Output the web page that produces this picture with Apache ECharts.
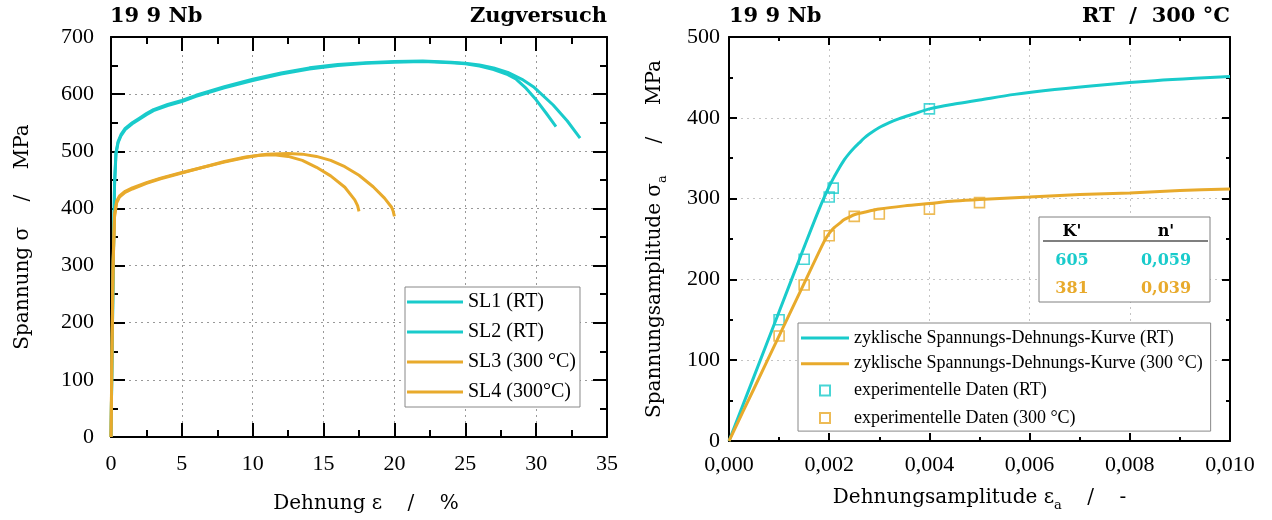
<!DOCTYPE html>
<html>
<head>
<meta charset="utf-8">
<script src="https://cdn.jsdelivr.net/npm/echarts@6/dist/echarts.min.js"></script>
<style>
html,body{margin:0;padding:0;background:#fff;}
#chart{width:1272px;height:520px;}
</style>
</head>
<body>
<div id="chart"></div>
<script>
// ---------- data ----------
const sl1Strain = [0, 0.15, 0.25, 0.35, 0.5, 0.7, 1.0, 1.5, 2.0, 2.5, 3.0, 4.0, 5.0, 6.0, 8.0, 10, 12, 14, 16, 18, 20, 22, 24, 25, 26, 27, 28, 28.6, 29.3, 30.0, 30.7, 31.4];
const sl1Stress = [0, 280, 440, 495, 515, 527, 538, 548, 556, 564, 571, 580, 587, 596, 611, 624, 635, 644, 650, 654, 656, 657, 655, 653, 649, 643, 634, 626, 610, 590, 567, 543];
const sl2Strain = [0, 0.15, 0.25, 0.35, 0.5, 0.7, 1.0, 1.5, 2.0, 2.5, 3.0, 4.0, 5.0, 6.0, 8.0, 10, 12, 14, 16, 18, 20, 22, 24, 25, 26, 27, 28, 29, 29.8, 30.2, 31.2, 32.2, 33.1];
const sl2Stress = [0, 285, 445, 498, 517, 529, 540, 550, 558, 566, 573, 582, 589, 598, 613, 626, 637, 646, 652, 655, 657, 658, 656, 654, 651, 646, 638, 626, 613, 604, 581, 553, 523];
const sl3Strain = [0, 0.08, 0.15, 0.25, 0.4, 0.6, 1.0, 1.5, 2.5, 3.5, 5, 6.5, 8, 9.5, 10.5, 11.5, 12.5, 13.5, 14.5, 15.5, 16.5, 17.2, 17.4, 17.5];
const sl3Stress = [0, 180, 310, 390, 413, 422, 430, 436, 445, 453, 463, 472, 481, 489, 493, 494, 491, 484, 472, 457, 437, 415, 405, 395];
const sl4Strain = [0, 0.08, 0.15, 0.25, 0.4, 0.6, 1.0, 1.5, 2.5, 3.5, 5, 6.5, 8, 9.5, 11, 12.5, 13.5, 14.5, 15.5, 16.5, 17.5, 18.5, 19.3, 19.8, 19.9, 20.0];
const sl4Stress = [0, 170, 300, 385, 410, 420, 428, 434, 444, 452, 462, 472, 482, 490, 495, 496, 495, 491, 484, 473, 458, 438, 418, 402, 396, 386];
const leftSeriesNames = ['SL1 (RT)', 'SL2 (RT)', 'SL3 (300 °C)', 'SL4 (300°C)'];

const rtStrain = [0, 0.0005, 0.001, 0.0015, 0.0018, 0.002, 0.0021, 0.0022, 0.0023, 0.0024, 0.0025, 0.0026, 0.0027, 0.0028, 0.003, 0.0032, 0.0034, 0.0037, 0.004, 0.0045, 0.005, 0.0057, 0.0065, 0.0075, 0.0085, 0.0093, 0.01];
const rtStress = [0, 80, 160, 240, 287, 315, 327, 338, 348, 356, 363, 369, 375, 380, 388, 394, 399, 405, 411, 417, 422, 429, 435, 441, 446, 449, 451];
const htStrain = [0, 0.0005, 0.001, 0.0015, 0.0019, 0.002, 0.0021, 0.0022, 0.0023, 0.0024, 0.0025, 0.0027, 0.003, 0.0035, 0.004, 0.0045, 0.005, 0.006, 0.007, 0.008, 0.009, 0.01];
const htStress = [0, 65, 130, 195, 247, 257, 264, 269, 274, 277, 280, 283, 287, 291, 294, 297, 299, 302, 305, 307, 310, 312];
const rtExpStrain = [0.001, 0.0015, 0.002, 0.00208, 0.004];
const rtExpStress = [150, 225, 302, 313, 411];
const htExpStrain = [0.001, 0.0015, 0.002, 0.0025, 0.003, 0.004, 0.005];
const htExpStress = [130, 193, 254, 278, 281, 287, 295];
const rightSeriesNames = ['zyklische Spannungs-Dehnungs-Kurve (RT)', 'zyklische Spannungs-Dehnungs-Kurve (300 °C)', 'experimentelle Daten (RT)', 'experimentelle Daten (300 °C)'];

const rightXTickLabels = ['0,000', '0,002', '0,004', '0,006', '0,008', '0,010'];
const tableHeader = ["K'", "n'"];
const tableK = ['605', '381'];
const tableN = ['0,059', '0,039'];

// ---------- style ----------
const CYAN = '#19CBCB';
const ORANGE = '#E8AA2C';
const FONT = '"Liberation Serif", "Times New Roman", serif';
const NAMEFONT = '"DejaVu Serif", serif';
const BOLDFONT = '"DejaVu Serif", serif';

const pairs = (xs, ys) => xs.map((x, i) => [x, ys[i]]);

function frameAxis(o) {
  return Object.assign({
    type: 'value',
    axisLine: { show: true, onZero: false, lineStyle: { color: '#000', width: 2 } },
    axisTick: { show: true, inside: true, length: o.majorLen, lineStyle: { color: '#000', width: 2 } },
    minorTick: { show: true, splitNumber: 2, length: o.minorLen, lineStyle: { color: '#000', width: 2 } },
    splitLine: { show: false },
    axisLabel: { show: false }
  }, o.extra);
}

const chart = echarts.init(document.getElementById('chart'), null, { renderer: 'canvas' });

const labelStyle = (size, margin, fmt) => ({ show: true, fontFamily: FONT, fontSize: size, color: '#000', margin: margin, formatter: fmt });
const titleStyle = { fontFamily: BOLDFONT, fontWeight: 'bold', fontSize: 21, color: '#000' };
const subRich = { sub: { fontFamily: NAMEFONT, fontSize: 13, lineHeight: 13, verticalAlign: 'bottom', color: '#000' } };
const leftLineIcon = 'path://M0,0M56,20M0,8.5H56V11.5H0Z';
const rightLineIcon = 'path://M0,0M48,18M0,7.5H48V10.5H0Z';
const squareIcon = 'path://M0,0M48,18M19,4H29V14H19Z';

const option = {
  animation: false,
  backgroundColor: '#fff',
  title: [
    { text: '19 9 Nb', left: 110, top: 6, padding: 0, textStyle: titleStyle },
    { text: 'Zugversuch', right: 665, top: 6, padding: 0, textStyle: titleStyle },
    { text: '19 9 Nb', left: 729, top: 6, padding: 0, textStyle: titleStyle },
    { text: 'RT  /  300 °C', right: 42, top: 6, padding: 0, textStyle: titleStyle }
  ],
  grid: [
    { left: 111, top: 37, width: 496, height: 400 },
    { left: 729, top: 37, width: 501, height: 404 }
  ],
  xAxis: [
    frameAxis({ majorLen: 14, minorLen: 7, extra: {
      gridIndex: 0, position: 'bottom', min: 0, max: 35, interval: 5,
      splitLine: { show: true, lineStyle: { type: [2, 4], color: '#999', width: 1 } },
      axisLabel: labelStyle(22, 16),
      name: 'Dehnung ε    /    %', nameLocation: 'middle', nameGap: 57,
      nameTextStyle: { fontFamily: NAMEFONT, fontSize: 20, color: '#000', padding: [0, 0, 0, 14] }
    } }),
    frameAxis({ majorLen: 14, minorLen: 7, extra: { gridIndex: 0, position: 'top', min: 0, max: 35, interval: 5 } }),
    frameAxis({ majorLen: 8, minorLen: 4, extra: {
      gridIndex: 1, position: 'bottom', min: 0, max: 0.01, interval: 0.002,
      splitLine: { show: true, lineStyle: { type: [2, 4], color: '#c4c4c4', width: 1 } },
      axisLabel: labelStyle(22, 13, v => rightXTickLabels[Math.round(v / 0.002)]),
      name: 'Dehnungsamplitude ε{sub|a}    /    -', nameLocation: 'middle', nameGap: 43,
      nameTextStyle: { fontFamily: NAMEFONT, fontSize: 20, color: '#000', lineHeight: 28, rich: subRich }
    } }),
    frameAxis({ majorLen: 8, minorLen: 4, extra: { gridIndex: 1, position: 'top', min: 0, max: 0.01, interval: 0.002 } })
  ],
  yAxis: [
    frameAxis({ majorLen: 14, minorLen: 7, extra: {
      gridIndex: 0, position: 'left', min: 0, max: 700, interval: 100,
      splitLine: { show: true, lineStyle: { type: [2, 4], color: '#999', width: 1 } },
      axisLabel: labelStyle(22, 17),
      name: 'Spannung σ    /    MPa', nameLocation: 'middle', nameGap: 78,
      nameTextStyle: { fontFamily: NAMEFONT, fontSize: 20, color: '#000' }
    } }),
    frameAxis({ majorLen: 14, minorLen: 7, extra: { gridIndex: 0, position: 'right', min: 0, max: 700, interval: 100 } }),
    frameAxis({ majorLen: 8, minorLen: 4, extra: {
      gridIndex: 1, position: 'left', min: 0, max: 500, interval: 100,
      splitLine: { show: true, lineStyle: { type: [2, 4], color: '#c4c4c4', width: 1 } },
      axisLabel: labelStyle(22, 9),
      name: 'Spannungsamplitude σ{sub|a}     /     MPa', nameLocation: 'middle', nameGap: 60,
      nameTextStyle: { fontFamily: NAMEFONT, fontSize: 20, color: '#000', lineHeight: 28, rich: subRich }
    } }),
    frameAxis({ majorLen: 8, minorLen: 4, extra: { gridIndex: 1, position: 'right', min: 0, max: 500, interval: 100 } })
  ],
  legend: [
    {
      left: 405, top: 287, orient: 'vertical', selectedMode: false,
      itemWidth: 56, itemHeight: 20, itemGap: 10, padding: [5, 4, 5, 2],
      borderColor: '#888', borderWidth: 1, backgroundColor: '#fff',
      textStyle: { fontFamily: FONT, fontSize: 20, color: '#000' },
      data: leftSeriesNames.map(n => ({ name: n, icon: leftLineIcon }))
    },
    {
      left: 798, top: 323, orient: 'vertical', selectedMode: false,
      itemWidth: 48, itemHeight: 18, itemGap: 7.7, padding: [6, 8, 3, 2],
      borderColor: '#888', borderWidth: 1, backgroundColor: '#fff',
      textStyle: { fontFamily: FONT, fontSize: 18, color: '#000' },
      data: [
        { name: rightSeriesNames[0], icon: rightLineIcon },
        { name: rightSeriesNames[1], icon: rightLineIcon },
        { name: rightSeriesNames[2], icon: squareIcon },
        { name: rightSeriesNames[3], icon: squareIcon }
      ]
    }
  ],
  series: [
    { name: leftSeriesNames[0], type: 'line', xAxisIndex: 0, yAxisIndex: 0, data: pairs(sl1Strain, sl1Stress), showSymbol: false, symbol: 'none', lineStyle: { color: CYAN, width: 3 }, itemStyle: { color: CYAN } },
    { name: leftSeriesNames[1], type: 'line', xAxisIndex: 0, yAxisIndex: 0, data: pairs(sl2Strain, sl2Stress), showSymbol: false, symbol: 'none', lineStyle: { color: CYAN, width: 3 }, itemStyle: { color: CYAN } },
    { name: leftSeriesNames[2], type: 'line', xAxisIndex: 0, yAxisIndex: 0, data: pairs(sl3Strain, sl3Stress), showSymbol: false, symbol: 'none', lineStyle: { color: ORANGE, width: 3 }, itemStyle: { color: ORANGE } },
    { name: leftSeriesNames[3], type: 'line', xAxisIndex: 0, yAxisIndex: 0, data: pairs(sl4Strain, sl4Stress), showSymbol: false, symbol: 'none', lineStyle: { color: ORANGE, width: 3 }, itemStyle: { color: ORANGE } },
    { name: rightSeriesNames[0], type: 'line', xAxisIndex: 2, yAxisIndex: 2, data: pairs(rtStrain, rtStress), smooth: 0.3, showSymbol: false, symbol: 'none', lineStyle: { color: CYAN, width: 3 }, itemStyle: { color: CYAN } },
    { name: rightSeriesNames[1], type: 'line', xAxisIndex: 2, yAxisIndex: 2, data: pairs(htStrain, htStress), smooth: 0.3, showSymbol: false, symbol: 'none', lineStyle: { color: ORANGE, width: 3 }, itemStyle: { color: ORANGE } },
    { name: rightSeriesNames[2], type: 'scatter', xAxisIndex: 2, yAxisIndex: 2, data: pairs(rtExpStrain, rtExpStress), symbol: 'rect', symbolSize: 10, itemStyle: { color: 'rgba(255,255,255,0)', borderColor: CYAN, borderWidth: 1.6 } },
    { name: rightSeriesNames[3], type: 'scatter', xAxisIndex: 2, yAxisIndex: 2, data: pairs(htExpStrain, htExpStress), symbol: 'rect', symbolSize: 10, itemStyle: { color: 'rgba(255,255,255,0)', borderColor: ORANGE, borderWidth: 1.6 } }
  ],
  graphic: (function () {
    const els = [
      { type: 'rect', z: 100, shape: { x: 1039, y: 217, width: 171, height: 85 }, style: { fill: '#fff', stroke: '#808080', lineWidth: 1 } },
      { type: 'line', z: 101, shape: { x1: 1043, y1: 241, x2: 1208, y2: 241 }, style: { stroke: '#555', lineWidth: 1.5 } }
    ];
    const colX = [1072, 1166];
    const txt = (s, x, y, color) => ({
      type: 'text', z: 102, x: x, y: y,
      style: { text: s, fill: color, fontFamily: BOLDFONT, fontWeight: 'bold', fontSize: 16, align: 'center', verticalAlign: 'middle', textAlign: 'center', textVerticalAlign: 'middle' }
    });
    tableHeader.forEach((h, i) => els.push(txt(h, colX[i], 232, '#000')));
    const rowColors = [CYAN, ORANGE];
    tableK.forEach((k, r) => {
      els.push(txt(k, colX[0], 261 + r * 27.5, rowColors[r]));
      els.push(txt(tableN[r], colX[1], 261 + r * 27.5, rowColors[r]));
    });
    return els;
  })()
};

chart.setOption(option);
</script>
</body>
</html>
